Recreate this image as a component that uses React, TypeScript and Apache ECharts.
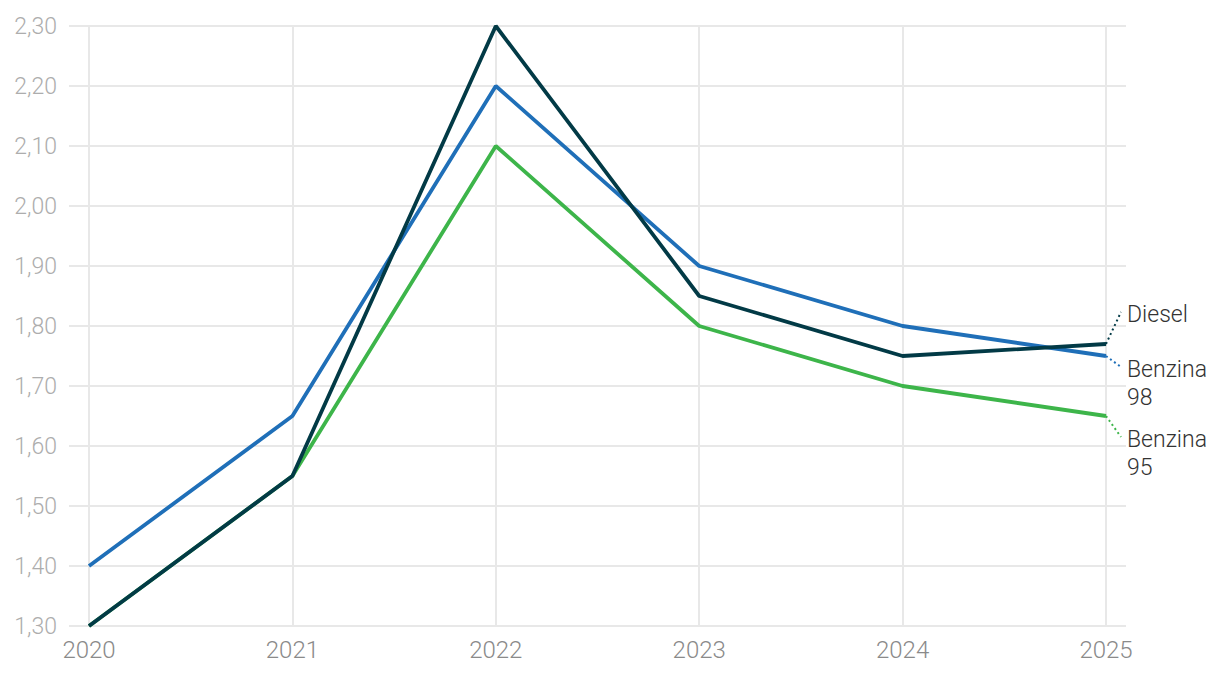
import React, { useEffect, useRef } from "react";
import * as echarts from "echarts";

const years = [2020, 2021, 2022, 2023, 2024, 2025];
const benzina98 = [1.4, 1.65, 2.2, 1.9, 1.8, 1.75];
const diesel = [1.3, 1.55, 2.3, 1.85, 1.75, 1.77];
const benzina95 = [1.3, 1.55, 2.1, 1.8, 1.7, 1.65];
const yTicks = [1.3, 1.4, 1.5, 1.6, 1.7, 1.8, 1.9, 2.0, 2.1, 2.2, 2.3];

const FONT = "Roboto, 'Noto Sans', sans-serif";

const seriesDefs = [
  { name: "Benzina 95", vals: benzina95, color: "#3db54a", label: "Benzina\n95", topOffset: 9, z: 2 },
  { name: "Benzina 98", vals: benzina98, color: "#1f6fb8", label: "Benzina\n98", topOffset: -1, z: 3 },
  { name: "Diesel", vals: diesel, color: "#023a46", label: "Diesel", topOffset: -44, z: 4 },
];

function mkSeries(d: any) {
  const data = d.vals.map((v: number, i: number) => {
    const item: any = { value: [years[i], v] };
    if (i === d.vals.length - 1) {
      item.label = {
        show: true,
        position: "right",
        formatter: d.label,
        color: "#333333",
        fontSize: 23,
        lineHeight: 28,
        fontFamily: FONT,
        fontWeight: 300,
      };
    }
    return item;
  });
  return {
    name: d.name,
    type: "line",
    xAxisIndex: 1,
    yAxisIndex: 1,
    data,
    z: d.z,
    symbol: "circle",
    symbolSize: 0,
    showSymbol: true,
    lineStyle: { color: d.color, width: 3.8 },
    itemStyle: { color: d.color },
    label: { show: false },
    emphasis: { disabled: true },
    labelLayout: (params: any) => {
      const cx = params.rect.x + params.rect.width / 2;
      const cy = params.rect.y + params.rect.height / 2;
      return { x: cx + 21, y: cy + d.topOffset, align: "left", verticalAlign: "top" };
    },
  };
}

export default function App() {
  const ref = useRef<HTMLDivElement>(null);
  useEffect(() => {
    document.body.style.margin = "0";
    const chart = echarts.init(ref.current!, null, { renderer: "svg" });
    chart.setOption({
      animation: false,
      backgroundColor: "#ffffff",
      grid: [
        { left: 69, right: 94, top: 26, bottom: 52 },
        { left: 89, right: 114, top: 26, bottom: 52 },
      ],
      xAxis: [
        { gridIndex: 0, type: "value", min: 0, max: 1, show: false },
        {
          gridIndex: 1,
          type: "value",
          min: years[0],
          max: years[years.length - 1],
          interval: 1,
          axisLine: { show: false },
          axisTick: { show: false },
          splitLine: { show: true, lineStyle: { color: "#e8e8e8", width: 2 } },
          axisLabel: {
            color: "#8a8a8a",
            fontSize: 24,
            fontWeight: 300,
            fontFamily: FONT,
            margin: 12,
            formatter: (v: number) => String(v),
          },
        },
      ],
      yAxis: [
        {
          gridIndex: 0,
          type: "value",
          min: yTicks[0],
          max: yTicks[yTicks.length - 1],
          interval: 0.1,
          axisLine: { show: false },
          axisTick: { show: false },
          splitLine: { show: true, lineStyle: { color: "#e8e8e8", width: 2 } },
          axisLabel: {
            color: "#adadad",
            fontSize: 23,
            fontWeight: 300,
            fontFamily: FONT,
            margin: 12,
            formatter: (v: number) => v.toFixed(2).replace(".", ","),
          },
        },
        {
          gridIndex: 1,
          type: "value",
          min: yTicks[0],
          max: yTicks[yTicks.length - 1],
          show: false,
          splitLine: { show: false },
        },
      ],
      series: seriesDefs.map(mkSeries),
    });

    // dotted leader lines from each series' last point to its label, positioned via the axis scales
    const leaders = seriesDefs.map((d) => {
      const last = d.vals.length - 1;
      const p = chart.convertToPixel({ xAxisIndex: 1, yAxisIndex: 1 }, [years[last], d.vals[last]]) as number[];
      const ex = p[0] + 15;
      const ey = p[1] + d.topOffset + 12;
      return {
        type: "line",
        z: 10,
        shape: { x1: p[0], y1: p[1], x2: ex, y2: ey },
        style: { stroke: d.color, lineWidth: 2, lineDash: [2, 3] },
        silent: true,
      };
    });
    chart.setOption({ graphic: leaders });
    return () => chart.dispose();
  }, []);
  return <div ref={ref} style={{ width: 1220, height: 678, position: "absolute", left: 0, top: 0 }} />;
}
